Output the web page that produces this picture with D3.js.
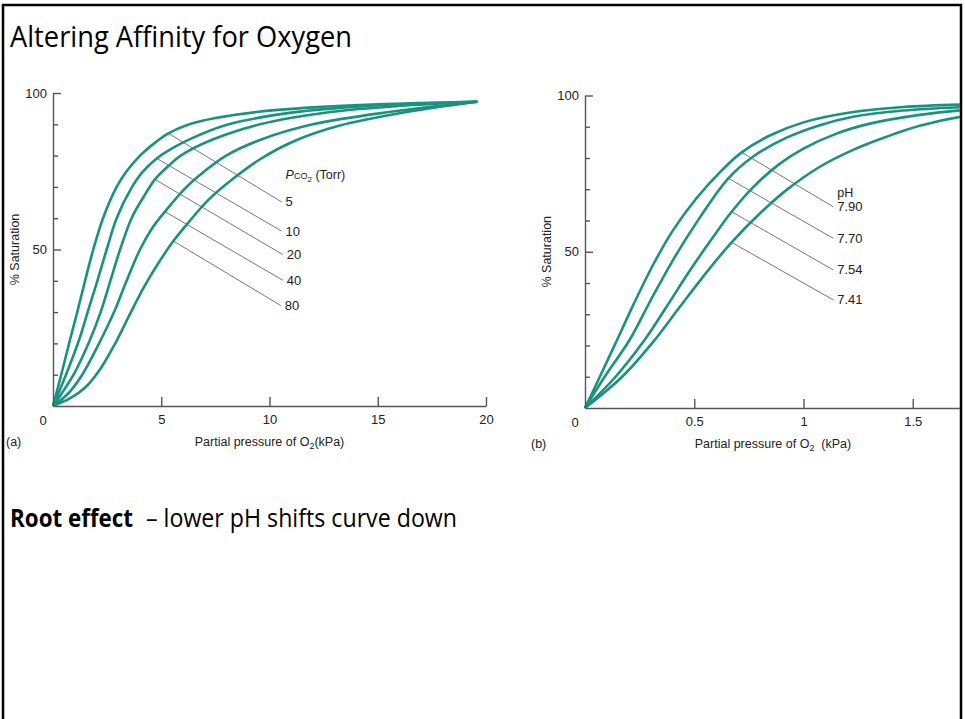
<!DOCTYPE html>
<html>
<head>
<meta charset="utf-8">
<script src="https://cdn.jsdelivr.net/npm/d3@7"></script>
<style>
  body { margin: 0; background: #fff; }
  svg { display: block; }
  .axis path, .axis line { stroke: #555; stroke-width: 1.4; }
  .tick text, .lbl { font-family: "Liberation Sans", Arial, sans-serif; font-size: 12.5px; fill: #222; }
  .tick text, .val, .zero { font-size: 13px; }
  .slide { font-family: "Open Sans", sans-serif; fill: #000; }
</style>
</head>
<body>
<svg width="965" height="719"></svg>
<script>
var title = 'Altering Affinity for Oxygen';
var noteBold = 'Root effect';
var noteRest = '\u2013 lower pH shifts curve down';

// (a) saturation curves for several Pco2 values, [kPa O2, % saturation]
var pco2Labels = ['5', '10', '20', '40', '80'];
var pco2_5  = [[0,0],[0.38,10],[0.78,21],[1.12,30],[1.48,40],[1.86,50],[2.31,60],[2.94,70],[3.4,75],[4.02,80],[4.6,83.5],[5.33,87.1],[6.3,90],[7.5,92],[9.5,94],[12,95.4],[15,96.4],[19.6,97.2]];
var pco2_10 = [[0,0],[0.6,10],[1.2,21],[1.6,30],[2.05,40],[2.48,50],[2.94,60],[3.65,70],[4.1,74.5],[4.79,79.1],[5.5,82.3],[6.3,85.2],[8.0,89.8],[11.1,93.8],[14.6,95.9],[19.6,97.2]];
var pco2_20 = [[0,0],[0.95,10],[1.7,21],[2.2,30],[2.65,40],[3.1,50],[3.63,60],[4.2,67],[4.71,72.4],[5.3,76.5],[5.9,80],[7.4,85.2],[9.56,90],[12.9,94],[16.3,96],[19.6,97.2]];
var pco2_40 = [[0,0],[0.7,4],[1.35,10],[2.2,21],[2.82,30],[3.4,40],[4.02,50],[4.6,57],[5.17,62.1],[6.17,70],[7.0,75],[8.0,80],[9.56,85],[12.0,90],[15.6,94],[19.6,97.2]];
var pco2_80 = [[0,0],[0.8,2.5],[1.5,6],[2.2,12],[2.95,21],[3.6,30],[4.2,38],[4.9,46],[5.56,52.7],[6.3,59],[7.2,66],[8.3,72.5],[9.6,79],[11.1,84.5],[13.2,89.5],[16.4,94],[19.6,97.2]];
var pco2Curves = [pco2_5, pco2_10, pco2_20, pco2_40, pco2_80];
// leader lines: point on the curve -> label point
var pco2From = [[5.33,87.1],[4.79,79.1],[4.71,72.4],[5.17,62.1],[5.56,52.7]];
var pco2To   = [[10.56,65.2],[10.56,55.9],[10.61,48.4],[10.61,40.2],[10.52,32.1]];
var xTicksA = [5, 10, 15, 20];

// (b) saturation curves for several pH values
var phLabels = ['7.90', '7.70', '7.54', '7.41'];
var ph790 = [[0,0],[0.07,10.3],[0.145,21.5],[0.221,33],[0.313,46],[0.404,57],[0.511,67.2],[0.618,75.5],[0.717,81.8],[0.846,87.2],[1.0,91.4],[1.227,94.7],[1.456,96.3],[1.73,97.1],[2,97.4]];
var ph770 = [[0,0],[0.09,10],[0.206,22],[0.297,34],[0.404,47.5],[0.526,61],[0.656,73.5],[0.77,80.5],[0.923,86.5],[1.075,90.5],[1.227,93.2],[1.456,95.2],[1.73,96.3],[2,96.8]];
var ph754 = [[0,0],[0.14,10],[0.27,21.5],[0.374,32.5],[0.48,44],[0.587,54.8],[0.671,62.8],[0.77,70.7],[0.892,78.2],[1.0,83],[1.151,87.8],[1.304,91],[1.532,93.8],[1.73,95.3],[2,96.2]];
var ph741 = [[0,0],[0.17,10],[0.31,21],[0.43,32],[0.557,43.5],[0.671,53],[0.801,62.3],[0.923,69.8],[1.075,77.2],[1.227,82.6],[1.38,86.8],[1.532,90.3],[1.73,93.3],[2,95.3]];
var phCurves = [ph790, ph770, ph754, ph741];
var phFrom = [[0.717,81.8],[0.656,73.5],[0.671,62.8],[0.671,53]];
var phTo   = [[1.136,64.4],[1.136,54.3],[1.136,44.2],[1.136,34.6]];
var xTicksB = [0.5, 1, 1.5];

var yMajor = [50, 100];
var yMinor = [10, 20, 30, 40, 60, 70, 80, 90];

var svg = d3.select('svg');

// slide frame
svg.append('rect')
    .attr('x', 3).attr('y', 5).attr('width', 958).attr('height', 740)
    .attr('fill', 'none').attr('stroke', '#000').attr('stroke-width', 2.5);

svg.append('text').attr('class', 'slide')
    .attr('x', 10).attr('y', 47)
    .attr('textLength', 342).attr('lengthAdjust', 'spacingAndGlyphs')
    .style('font-size', '30px')
    .text(title);

svg.append('text').attr('class', 'slide')
    .attr('x', 10).attr('y', 527)
    .attr('textLength', 123).attr('lengthAdjust', 'spacingAndGlyphs')
    .style('font-size', '25.5px').style('font-weight', 'bold')
    .text(noteBold);
svg.append('text').attr('class', 'slide')
    .attr('x', 146).attr('y', 527)
    .attr('textLength', 311).attr('lengthAdjust', 'spacingAndGlyphs')
    .style('font-size', '25.5px')
    .text(noteRest);

svg.append('clipPath').attr('id', 'frame')
  .append('rect').attr('x', 0).attr('y', 0).attr('width', 960).attr('height', 719);

function panel(cfg) {
    var x = d3.scaleLinear().domain(cfg.xDomain).range(cfg.xRange);
    var y = d3.scaleLinear().domain([0, 100]).range(cfg.yRange);
    var g = svg.append('g');
    var inner = g.append('g').attr('clip-path', 'url(#frame)');

    // y axis, ticks pointing inwards
    g.append('g').attr('class', 'axis')
        .attr('transform', 'translate(' + x(0) + ',0)')
        .call(d3.axisLeft(y).tickValues(yMajor).tickSize(-8).tickSizeOuter(0).tickPadding(6));
    g.append('g').attr('class', 'axis')
        .attr('transform', 'translate(' + x(0) + ',0)')
        .call(d3.axisLeft(y).tickValues(yMinor).tickSize(-5).tickFormat(''))
        .select('.domain').remove();

    // x axis
    inner.append('g').attr('class', 'axis')
        .attr('transform', 'translate(0,' + y(0) + ')')
        .call(d3.axisBottom(x).tickValues(cfg.xTicks).tickSize(-9).tickSizeOuter(0)
            .tickPadding(9).tickFormat(d3.format('~g')));

    // shared origin label
    g.append('text').attr('class', 'lbl zero')
        .attr('x', x(0) - 10).attr('y', y(0) + 14)
        .attr('text-anchor', 'middle').attr('dy', '0.35em')
        .text('0');

    var line = d3.line()
        .x(d => x(d[0]))
        .y(d => y(d[1]))
        .curve(d3.curveCatmullRom.alpha(0.5));

    // leader lines and labels
    inner.selectAll('line.leader')
        .data(cfg.from)
        .enter().append('line')
        .attr('class', 'leader')
        .attr('x1', d => x(d[0])).attr('y1', d => y(d[1]))
        .attr('x2', (d, i) => x(cfg.to[i][0])).attr('y2', (d, i) => y(cfg.to[i][1]))
        .attr('stroke', '#777').attr('stroke-width', 1);
    g.selectAll('text.val')
        .data(cfg.labels)
        .enter().append('text')
        .attr('class', 'lbl val')
        .attr('x', (d, i) => x(cfg.to[i][0]) + 4)
        .attr('y', (d, i) => y(cfg.to[i][1]))
        .attr('dy', '0.35em')
        .text(d => d);

    inner.selectAll('path.curve')
        .data(cfg.curves)
        .enter().append('path')
        .attr('class', 'curve')
        .attr('d', line)
        .attr('fill', 'none')
        .attr('stroke', '#1a9280')
        .attr('stroke-width', 2.6);

    // axis titles
    var xt = g.append('text').attr('class', 'lbl')
        .attr('x', d3.mean(cfg.titleSpan)).attr('y', y(0) + 36)
        .attr('text-anchor', 'middle').attr('dy', '0.35em');
    xt.append('tspan').text('Partial pressure of O');
    xt.append('tspan').attr('dy', 3).style('font-size', '9px').text('2');
    xt.append('tspan').attr('dy', -3).text(cfg.kpa);

    g.append('text').attr('class', 'lbl')
        .attr('transform', 'translate(' + cfg.yTitleX + ',' + y(50) + ') rotate(-90)')
        .attr('text-anchor', 'middle').attr('dy', '0.35em')
        .text('% Saturation');

    g.append('text').attr('class', 'lbl')
        .attr('x', cfg.tagX).attr('y', y(0) + 36).attr('dy', '0.35em')
        .text(cfg.tag);

    return {x: x, y: y, g: g};
}

var a = panel({
    xDomain: [0, 20], xRange: [53, 486], yRange: [406, 93],
    xTicks: xTicksA, curves: pco2Curves, labels: pco2Labels,
    from: pco2From, to: pco2To, titleSpan: [53, 486], kpa: '(kPa)',
    yTitleX: 15, tagX: 6, tag: '(a)'
});
var ha = a.g.append('text').attr('class', 'lbl')
    .attr('x', a.x(pco2To[0][0]) + 4).attr('y', a.y(pco2To[0][1]) - 27)
    .attr('dy', '0.35em');
ha.append('tspan').style('font-style', 'italic').text('P');
ha.append('tspan').style('font-size', '9px').text('CO');
ha.append('tspan').attr('dy', 3).style('font-size', '8px').text('2');
ha.append('tspan').attr('dy', -3).text('\u00a0(Torr)');

var b = panel({
    xDomain: [0, 2], xRange: [585, 1022], yRange: [408, 95.5],
    xTicks: xTicksB, curves: phCurves, labels: phLabels,
    from: phFrom, to: phTo, titleSpan: [585, 961], kpa: '\u00a0\u00a0(kPa)',
    yTitleX: 547, tagX: 531, tag: '(b)'
});
b.g.append('text').attr('class', 'lbl')
    .attr('x', b.x(phTo[0][0]) + 4).attr('y', b.y(phTo[0][1]) - 14)
    .attr('dy', '0.35em')
    .text('pH');
</script>
</body>
</html>
